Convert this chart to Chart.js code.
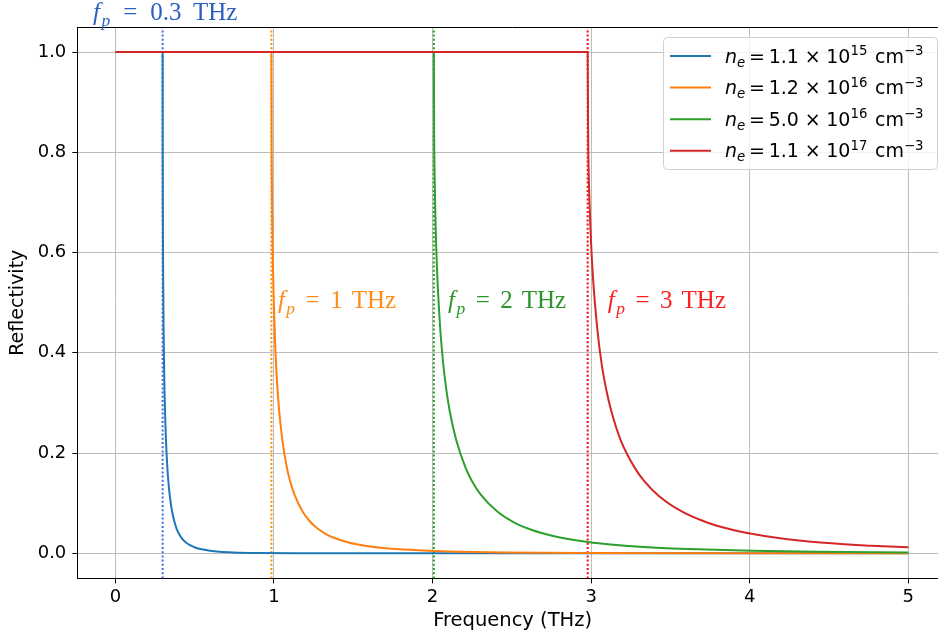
<!DOCTYPE html>
<html><head><meta charset="utf-8">
<script src="https://cdn.jsdelivr.net/npm/chart.js@4.4.1/dist/chart.umd.min.js"></script>
<style>html,body{margin:0;padding:0;overflow:hidden;background:#fff}</style>
</head><body>
<canvas id="c" width="948" height="638" style="width:948px;height:638px;display:block"></canvas>
<script>
// ---- data ----
const xTicks = [0, 1, 2, 3, 4, 5];
const yTicks = [0.0, 0.2, 0.4, 0.6, 0.8, 1.0];

const freqBlue = [0, 0.298, 0.2983, 0.2988, 0.2995, 0.301, 0.304, 0.307, 0.310, 0.313, 0.319, 0.328, 0.334, 0.343, 0.358, 0.373, 0.387, 0.402, 0.417, 0.447, 0.477, 0.507, 0.536, 0.596, 0.656, 0.745, 0.894, 1.192, 1.49, 1.788, 2.384, 2.98, 5];
const reflBlue = [1, 1, 0.836, 0.754, 0.670, 0.568, 0.450, 0.376, 0.324, 0.284, 0.226, 0.170, 0.144, 0.115, 0.083, 0.0625, 0.0485, 0.0385, 0.031, 0.021, 0.0152, 0.0112, 0.0085, 0.0052, 0.0033, 0.0019, 0.0009, 0.00026, 0.0001, 0.00005, 0.000015, 0.000006, 0.000001];

const freqOrange = [0, 0.984, 0.985, 0.9865, 0.989, 0.994, 1.004, 1.0135, 1.023, 1.033, 1.053, 1.082, 1.102, 1.132, 1.181, 1.23, 1.279, 1.328, 1.378, 1.476, 1.574, 1.673, 1.771, 1.968, 2.165, 2.46, 2.952, 3.936, 5];
const reflOrange = [1, 1, 0.836, 0.754, 0.670, 0.568, 0.450, 0.376, 0.324, 0.284, 0.226, 0.170, 0.144, 0.115, 0.083, 0.0625, 0.0485, 0.0385, 0.031, 0.021, 0.0152, 0.0112, 0.0085, 0.0052, 0.0033, 0.0019, 0.0009, 0.00026, 0.0001];

const freqGreen = [0, 2.008, 2.010, 2.013, 2.018, 2.028, 2.048, 2.068, 2.088, 2.108, 2.149, 2.209, 2.249, 2.309, 2.410, 2.510, 2.610, 2.711, 2.811, 3.012, 3.213, 3.414, 3.614, 4.016, 4.418, 5];
const reflGreen = [1, 1, 0.836, 0.754, 0.670, 0.568, 0.450, 0.376, 0.324, 0.284, 0.226, 0.170, 0.144, 0.115, 0.083, 0.0625, 0.0485, 0.0385, 0.031, 0.021, 0.0152, 0.0112, 0.0085, 0.0052, 0.0033, 0.0019];

const freqRed = [0, 2.978, 2.981, 2.985, 2.993, 3.008, 3.038, 3.067, 3.097, 3.127, 3.186, 3.276, 3.335, 3.425, 3.574, 3.7225, 3.871, 4.020, 4.169, 4.467, 4.765, 5];
const reflRed = [1, 1, 0.836, 0.754, 0.670, 0.568, 0.450, 0.376, 0.324, 0.284, 0.226, 0.170, 0.144, 0.115, 0.083, 0.0625, 0.0485, 0.0385, 0.031, 0.021, 0.0152, 0.0119];

// plasma frequencies (dotted markers) and legend densities
const plasmaFreqs = [0.298, 0.984, 2.008, 2.978];
const densityMantissa = ['1.1', '1.2', '5.0', '1.1'];
const densityExponent = ['15', '16', '16', '17'];

// annotation texts and their anchor (data coordinates)
const annotValues = ['0.3', '1', '2', '3'];
const annotX = [-0.141, 1.025, 2.097, 3.105];
const annotY = [1.063, 0.489, 0.489, 0.489];

// ---- styles ----
const lineColors = ['#1f77b4', '#ff7f0e', '#2ca02c', '#d62728'];
const dotColors = ['#4169e1', '#ff8c00', '#1f9e1f', '#ff0000'];
const annotColors = ['#2a5fc0', '#ff8c1a', '#2a962a', '#ff2020'];
const SANS = 'DejaVu Sans';
const SERIF = 'Liberation Serif';

const curveX = [freqBlue, freqOrange, freqGreen, freqRed];
const curveY = [reflBlue, reflOrange, reflGreen, reflRed];

const datasets = [];
curveX.forEach((xs, i) => {
  datasets.push({
    data: xs.map((x, j) => ({x: x, y: curveY[i][j]})),
    borderColor: lineColors[i], borderWidth: 2, pointRadius: 0,
    cubicInterpolationMode: 'monotone', fill: false, order: 4 - i + 1
  });
});
plasmaFreqs.forEach((fp, i) => {
  datasets.push({
    data: [{x: fp, y: -0.05}, {x: fp, y: 1.05}],
    borderColor: dotColors[i], borderWidth: 2, borderDash: [2, 2.2],
    pointRadius: 0, fill: false, order: 10
  });
});

function drawRich(ctx, x, y, parts, base, family, color) {
  let cx = x;
  ctx.save();
  ctx.fillStyle = color; ctx.textBaseline = 'alphabetic'; ctx.textAlign = 'left';
  for (const p of parts) {
    if (p.gap !== undefined) { cx += p.gap * base; continue; }
    const small = p.sub || p.sup;
    const size = small ? base * 0.7 : base;
    ctx.font = (p.it ? 'italic ' : '') + size + 'px "' + family + '"';
    const dy = p.sub ? base * 0.22 : (p.sup ? -base * 0.40 : 0);
    ctx.fillText(p.t, cx, y + dy);
    cx += ctx.measureText(p.t).width;
  }
  ctx.restore();
  return cx - x;
}

const decor = {
  id: 'decor',
  afterDatasetsDraw(chart) {
    const ctx = chart.ctx, a = chart.chartArea;
    const xs = chart.scales.x, ys = chart.scales.y;
    // frame (top / right spines)
    ctx.save();
    ctx.strokeStyle = '#000'; ctx.lineWidth = 1;
    ctx.beginPath();
    ctx.moveTo(a.left, a.top + 0.5); ctx.lineTo(a.right, a.top + 0.5);
    ctx.moveTo(a.right - 0.5, a.top); ctx.lineTo(a.right - 0.5, a.bottom);
    ctx.stroke();
    ctx.restore();

    // annotations
    annotValues.forEach((v, i) => {
      const px = xs.getPixelForValue(annotX[i]);
      const py = ys.getPixelForValue(annotY[i]);
      const wide = v.length > 1 ? 0.1 : 0;
      drawRich(ctx, px, py, [
        {t: 'f', it: true}, {gap: 0.06}, {t: 'p', it: true, sub: true}, {gap: 0.42 + wide},
        {t: '='}, {gap: 0.42 + wide}, {t: v}, {gap: 0.36 + wide}, {t: 'THz'}
      ], 25, SERIF, annotColors[i]);
    });

    // legend
    const bw = 274, bh = 132;
    const bx = a.right - 11 - bw, by = a.top + 10;
    ctx.save();
    ctx.beginPath();
    ctx.roundRect(bx + 0.5, by + 0.5, bw, bh, 4);
    ctx.fillStyle = 'rgba(255,255,255,0.8)';
    ctx.fill();
    ctx.strokeStyle = '#d0d0d0'; ctx.lineWidth = 1;
    ctx.stroke();
    ctx.restore();
    densityMantissa.forEach((m, i) => {
      const cy = by + 19 + i * 31.6;
      ctx.save();
      ctx.strokeStyle = lineColors[i]; ctx.lineWidth = 2;
      ctx.beginPath(); ctx.moveTo(bx + 7, cy); ctx.lineTo(bx + 48, cy); ctx.stroke();
      ctx.restore();
      drawRich(ctx, bx + 62, cy + 6.5, [
        {t: 'n', it: true}, {t: 'e', it: true, sub: true}, {gap: 0.2}, {t: '='}, {gap: 0.2},
        {t: m}, {gap: 0.3}, {t: '×'}, {gap: 0.3}, {t: '10'}, {t: densityExponent[i], sup: true},
        {gap: 0.4}, {t: 'cm'}, {t: '−3', sup: true}
      ], 19, SANS, '#000');
    });
  }
};

new Chart(document.getElementById('c'), {
  type: 'line',
  data: {datasets: datasets},
  options: {
    responsive: false, animation: false, devicePixelRatio: 1,
    layout: {padding: {top: 27, right: 0, left: 0, bottom: 0}},
    plugins: {legend: {display: false}, tooltip: {enabled: false}},
    scales: {
      x: {
        type: 'linear', min: -0.24, max: 5.25,
        afterBuildTicks: s => { s.ticks = xTicks.map(v => ({value: v})); },
        afterFit: s => { s.height = 59.6; },
        ticks: {font: {family: SANS, size: 18}, color: '#000', padding: 3, maxRotation: 0,
                callback: v => String(v)},
        grid: {color: '#bdbdbd', lineWidth: 1, tickLength: 5, tickColor: '#000', tickWidth: 1},
        border: {color: '#000', width: 1},
        title: {display: true, text: 'Frequency (THz)', font: {family: SANS, size: 19.5}, color: '#000',
                padding: {top: 0, bottom: 5}}
      },
      y: {
        type: 'linear', min: -0.05, max: 1.05,
        afterBuildTicks: s => { s.ticks = yTicks.map(v => ({value: v})); },
        afterFit: s => { s.width = 77.3; },
        ticks: {font: {family: SANS, size: 18}, color: '#000', padding: 6,
                callback: v => Number(v).toFixed(1)},
        grid: {color: '#bdbdbd', lineWidth: 1, tickLength: 5, tickColor: '#000', tickWidth: 1},
        border: {color: '#000', width: 1},
        title: {display: true, text: 'Reflectivity', font: {family: SANS, size: 19}, color: '#000',
                padding: {top: 7, bottom: 0}}
      }
    }
  },
  plugins: [decor]
});
</script>
</body></html>
